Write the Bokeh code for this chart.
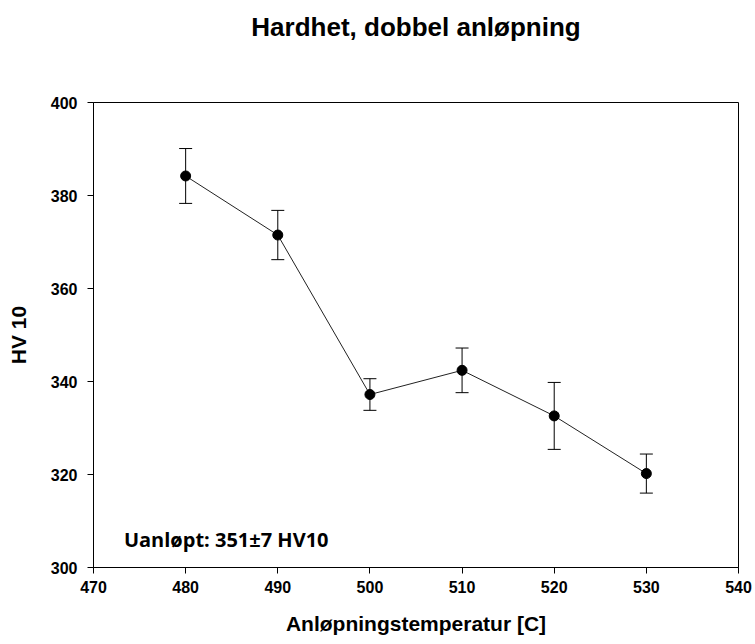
from bokeh.plotting import figure
from bokeh.models import ColumnDataSource, Whisker, TeeHead, Label, FixedTicker, Title
from bokeh.embed import file_html
from bokeh.resources import INLINE

# Double tempering: Vickers hardness vs tempering temperature
temperature = [480, 490, 500, 510, 520, 530]
hardness = [384.2, 371.5, 337.2, 342.4, 332.6, 320.2]
std_dev = [5.9, 5.3, 3.4, 4.8, 7.2, 4.2]

x_ticks = [470, 480, 490, 500, 510, 520, 530, 540]
y_ticks = [300, 320, 340, 360, 380, 400]

upper = [h + s for h, s in zip(hardness, std_dev)]
lower = [h - s for h, s in zip(hardness, std_dev)]
src = ColumnDataSource(data=dict(x=temperature, y=hardness, upper=upper, lower=lower))

FONT = "Liberation Sans"

p = figure(width=755, height=644, x_range=(470, 540), y_range=(300, 400),
           output_backend="svg", toolbar_location=None,
           min_border_left=93, min_border_right=17,
           min_border_top=102, min_border_bottom=77,
           background_fill_color="white", border_fill_color="white")

p.title.text = "Hardhet, dobbel anløpning"
p.title.align = "center"
p.title.vertical_align = "top"
p.title.text_font = FONT
p.title.text_font_style = "bold"
p.title.text_font_size = "26px"
p.title.text_color = "black"
p.title.standoff = 0

# blank band between the heading and the plot frame
p.add_layout(Title(text=" ", text_font_size="12px", standoff=43), "above")

p.grid.visible = False
p.outline_line_color = "black"
p.outline_line_width = 1

for ax in (p.xaxis[0], p.yaxis[0]):
    ax.axis_line_color = "black"
    ax.major_tick_line_color = "black"
    ax.major_tick_out = 6
    ax.major_tick_in = 0
    ax.minor_tick_line_color = None
    ax.major_label_text_font = FONT
    ax.major_label_text_font_style = "bold"
    ax.major_label_text_font_size = "16px"
    ax.major_label_text_color = "black"
    ax.axis_label_text_font = FONT
    ax.axis_label_text_font_style = "bold"
    ax.axis_label_text_font_size = "21px"
    ax.axis_label_text_color = "black"

p.xaxis.ticker = FixedTicker(ticks=x_ticks)
p.yaxis.ticker = FixedTicker(ticks=y_ticks)
p.xaxis.axis_label = "Anløpningstemperatur [C]"
p.yaxis.axis_label = "HV 10"
p.xaxis.major_label_standoff = 7
p.yaxis.major_label_standoff = 10
p.xaxis.axis_label_standoff = 16
p.yaxis.axis_label_standoff = 18

# standard-deviation error bars
p.add_layout(Whisker(source=src, base="x", upper="upper", lower="lower",
                     line_color="black", line_width=1,
                     upper_head=TeeHead(size=13, line_color="black", line_width=1),
                     lower_head=TeeHead(size=13, line_color="black", line_width=1)))

p.line("x", "y", source=src, line_color="#222222", line_width=1)
p.scatter("x", "y", source=src, size=10, fill_color="black", line_color="black")

p.add_layout(Label(x=473.3, y=306, text="Uanløpt: 351±7 HV10",
                   text_font="Open Sans", text_font_style="bold",
                   text_font_size="20px", text_color="black",
                   text_baseline="alphabetic"))

open("out.html", "w").write(file_html(p, INLINE))
